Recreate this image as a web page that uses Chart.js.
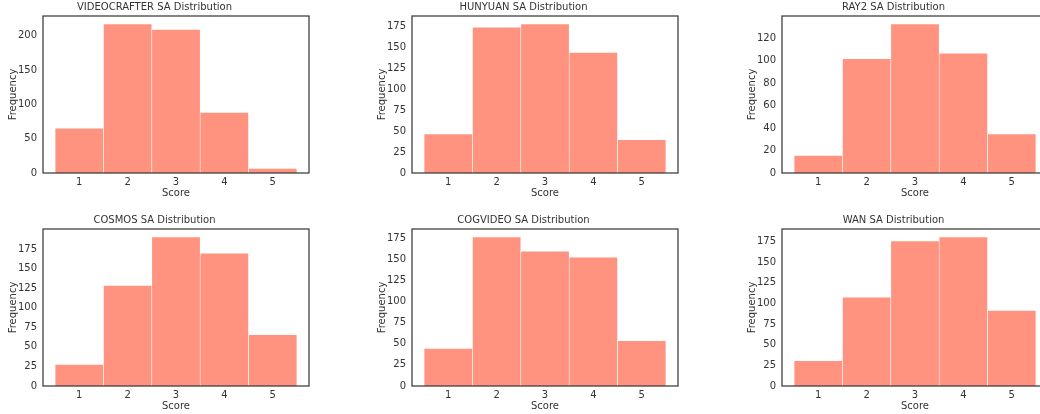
<!DOCTYPE html>
<html>
<head>
<meta charset="utf-8">
<script src="https://cdn.jsdelivr.net/npm/chart.js@4.4.1/dist/chart.umd.min.js"></script>
<style>
  html, body { margin: 0; padding: 0; background: #fff; }
  body { width: 1040px; height: 414px; position: relative; overflow: hidden; }
  canvas { position: absolute; }
</style>
</head>
<body>
<canvas id="c0" width="312" height="200" style="left:0px;top:0px"></canvas>
<canvas id="c1" width="312" height="200" style="left:369px;top:0px"></canvas>
<canvas id="c2" width="312" height="200" style="left:739px;top:0px"></canvas>
<canvas id="c3" width="312" height="200" style="left:0px;top:213px"></canvas>
<canvas id="c4" width="312" height="200" style="left:369px;top:213px"></canvas>
<canvas id="c5" width="312" height="200" style="left:739px;top:213px"></canvas>
<script>
// scores 1..5 and counts
const scores = [1, 2, 3, 4, 5];
const models = ['VIDEOCRAFTER', 'HUNYUAN', 'RAY2', 'COSMOS', 'COGVIDEO', 'WAN'];
const videocrafter = [66, 218, 210, 89, 7];
const hunyuan = [47, 174, 178, 144, 40];
const ray2 = [16, 102, 133, 107, 35];
const cosmos = [28, 129, 191, 170, 66];
const cogvideo = [45, 177, 160, 153, 54];
const wan = [31, 108, 176, 181, 92];

// y tick labels for each panel
const ticks50 = [0, 50, 100, 150, 200];
const ticks25 = [0, 25, 50, 75, 100, 125, 150, 175];
const ticks20 = [0, 20, 40, 60, 80, 100, 120];

const allCounts = [videocrafter, hunyuan, ray2, cosmos, cogvideo, wan];
const allTicks = [ticks50, ticks25, ticks20, ticks25, ticks25, ticks25];

const barColor = '#ff9380';
const textColor = '#333333';
const font = { family: 'DejaVu Sans', size: 10 };

// draws the box around the plot area (matplotlib spines)
const frame = {
    id: 'frame',
    afterDraw(chart) {
        const a = chart.chartArea;
        const c = chart.ctx;
        c.save();
        c.strokeStyle = '#3a3a3a';
        c.lineWidth = 1.25;
        c.strokeRect(a.left, a.top, a.right - a.left, a.bottom - a.top);
        c.restore();
    }
};

models.forEach(function(name, k) {
    const counts = allCounts[k];
    const yTicks = allTicks[k];
    const ctx = document.getElementById('c' + k).getContext('2d');
    new Chart(ctx, {
        type: 'bar',
        data: {
            datasets: [{
                data: scores.map((s, i) => ({ x: s, y: counts[i] })),
                backgroundColor: barColor,
                borderColor: '#ffffff',
                borderWidth: { top: 1, left: 0.6, right: 0.6, bottom: 0 },
                barPercentage: 1,
                categoryPercentage: 1
            }]
        },
        options: {
            responsive: false,
            animation: false,
            devicePixelRatio: 1,
            layout: { padding: { left: 0, right: 3, top: 0, bottom: 0 } },
            plugins: {
                legend: { display: false },
                tooltip: { enabled: false },
                title: {
                    display: true,
                    text: name + ' SA Distribution',
                    color: textColor,
                    font: { family: font.family, size: 10, weight: 'normal' },
                    padding: { top: 1, bottom: 3 }
                }
            },
            scales: {
                x: {
                    type: 'linear',
                    offset: false,
                    min: 0.25,
                    max: 5.75,
                    grid: { display: false, drawTicks: false },
                    border: { display: false },
                    afterBuildTicks: function(scale) {
                        scale.ticks = scores.map(v => ({ value: v }));
                    },
                    afterFit: function(scale) { scale.height = 27; },
                    ticks: { color: textColor, font: font, padding: 3, maxRotation: 0 },
                    title: {
                        display: true, text: 'Score', color: textColor, font: font,
                        padding: { top: 0, bottom: 1 }
                    }
                },
                y: {
                    min: 0,
                    max: Math.max(...counts) * 1.05,
                    grid: { display: false, drawTicks: false },
                    border: { display: false },
                    afterBuildTicks: function(scale) {
                        scale.ticks = yTicks.map(v => ({ value: v }));
                    },
                    afterFit: function(scale) { scale.width = 43; },
                    ticks: { color: textColor, font: font, padding: 6 },
                    title: {
                        display: true, text: 'Frequency', color: textColor, font: font,
                        padding: { top: 7, bottom: 0 }
                    }
                }
            }
        },
        plugins: [frame]
    });
});
</script>
</body>
</html>
